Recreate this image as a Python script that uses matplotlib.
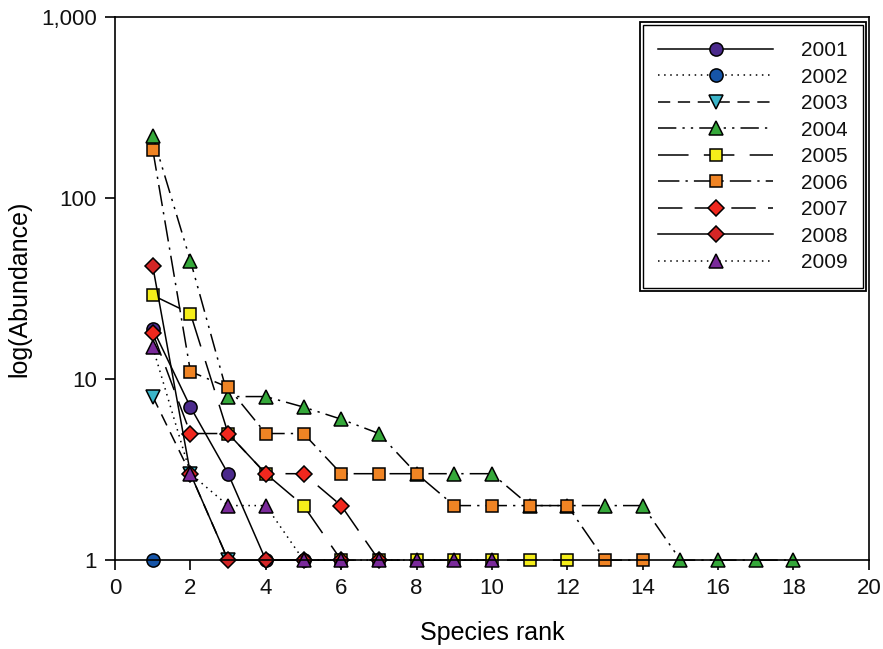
import matplotlib
matplotlib.use("Agg")
import matplotlib.pyplot as plt
from matplotlib.ticker import FixedLocator, FuncFormatter, NullLocator
from matplotlib.patches import Rectangle

plt.rcParams['font.family'] = ['Liberation Sans', 'DejaVu Sans']

years = ['2001', '2002', '2003', '2004', '2005', '2006', '2007', '2008', '2009']
ab_2001 = [19, 7, 3, 1, 1]
ab_2002 = [1]
ab_2003 = [8, 3, 1]
ab_2004 = [220, 45, 8, 8, 7, 6, 5, 3, 3, 3, 2, 2, 2, 2, 1, 1, 1, 1]
ab_2005 = [29, 23, 5, 3, 2, 1, 1, 1, 1, 1, 1, 1]
ab_2006 = [185, 11, 9, 5, 5, 3, 3, 3, 2, 2, 2, 2, 1, 1]
ab_2007 = [18, 5, 5, 3, 3, 2, 1]
ab_2008 = [42, 3, 1, 1, 1, 1]
ab_2009 = [15, 3, 2, 2, 1, 1, 1, 1, 1, 1]
series = [ab_2001, ab_2002, ab_2003, ab_2004, ab_2005, ab_2006, ab_2007, ab_2008, ab_2009]

x_ticks = [0, 2, 4, 6, 8, 10, 12, 14, 16, 18, 20]
y_ticks = [1, 10, 100, 1000]

styles = [
    dict(marker='o', color='#4B2A8C', ls='-', ms=9.5),
    dict(marker='o', color='#1655A8', ls=(0, (1, 3)), ms=9.5),
    dict(marker='v', color='#3BB5C9', ls=(0, (8, 5)), ms=10),
    dict(marker='^', color='#35A83A', ls=(0, (12, 4, 1.5, 4, 1.5, 4)), ms=10),
    dict(marker='s', color='#F5EE1A', ls=(0, (20, 10)), ms=8.5),
    dict(marker='s', color='#F08424', ls=(0, (14, 4, 1.5, 4)), ms=8.5),
    dict(marker='D', color='#F0281E', ls=(0, (16, 8)), ms=8.5),
    dict(marker='D', color='#D42626', ls='-', ms=8.5),
    dict(marker='^', color='#7A2A9A', ls=(0, (1, 3)), ms=10),
]

fig = plt.figure(figsize=(8.83, 6.49), dpi=100)
ax = fig.add_axes([0.1303, 0.137, 0.8537, 0.837])

for yr, vals, st in zip(years, series, styles):
    ranks = list(range(1, len(vals) + 1))
    ax.plot(ranks, vals, linestyle=st['ls'], color='black', lw=1.1,
            marker=st['marker'], markersize=st['ms'], markerfacecolor=st['color'],
            markeredgecolor='black', markeredgewidth=1.1, label=yr, clip_on=False)

ax.set_yscale('log')
ax.set_xlim(0, 20)
ax.set_ylim(1, 1000)
ax.xaxis.set_major_locator(FixedLocator(x_ticks))
ax.yaxis.set_major_locator(FixedLocator(y_ticks))
ax.yaxis.set_minor_locator(NullLocator())
ax.xaxis.set_minor_locator(NullLocator())
ax.yaxis.set_major_formatter(FuncFormatter(lambda v, p: '{:,.0f}'.format(v)))
ax.tick_params(direction='out', length=7, width=1.2, labelsize=16, pad=6)
for s in ax.spines.values():
    s.set_linewidth(1.2)
for lab in ax.get_xticklabels() + ax.get_yticklabels():
    lab.set_color('#111111')

ax.set_xlabel('Species rank', fontsize=18, labelpad=16)
ax.set_ylabel('log(Abundance)', fontsize=18, labelpad=7)

leg = ax.legend(loc='upper right', bbox_to_anchor=(0.998, 0.992), fontsize=15,
                numpoints=1, handlelength=5.5, handletextpad=1.35,
                labelspacing=0.36, borderpad=0.75, borderaxespad=0.2,
                fancybox=False, framealpha=1, edgecolor='black')
leg.get_frame().set_linewidth(1.0)
leg.set_zorder(20)
for t in leg.get_texts():
    t.set_color('#111111')

fig.canvas.draw()
bb = leg.get_window_extent().transformed(fig.transFigure.inverted())
pad = 3.0 / 883
padh = 3.0 / 649
rect = Rectangle((bb.x0 - pad, bb.y0 - padh), bb.width + 2 * pad, bb.height + 2 * padh,
                 transform=fig.transFigure, fill=False, edgecolor='black', lw=1.3, zorder=30)
fig.patches.append(rect)

fig.savefig('out.png', dpi=100)
